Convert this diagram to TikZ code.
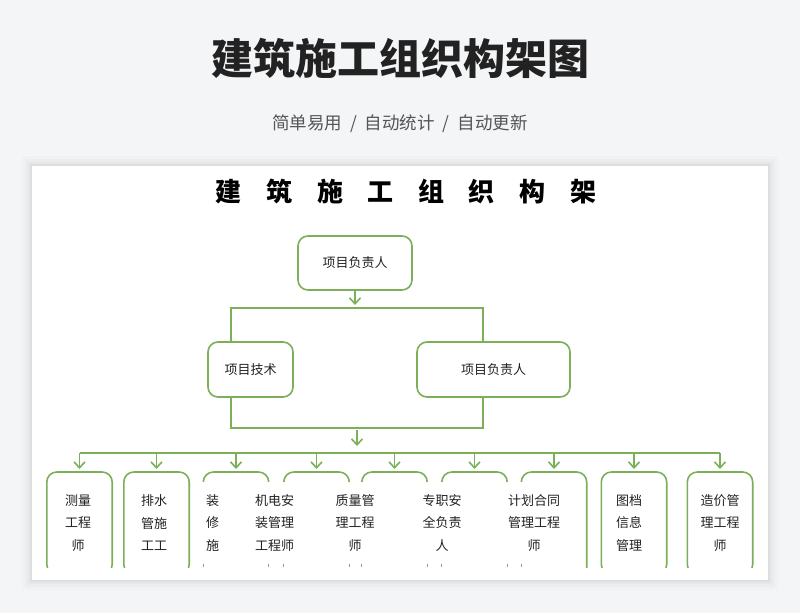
\documentclass[tikz,border=0pt]{standalone}
\usepackage{fontspec}
\newfontfamily\cjk{Noto Sans CJK SC}
\usetikzlibrary{arrows.meta,positioning,calc}

\definecolor{leafgreen}{HTML}{7BAF58}
\definecolor{inkgray}{HTML}{222222}
\definecolor{subgray}{HTML}{555555}
\definecolor{pagegray}{HTML}{F4F5F7}

\tikzset{
  link/.style={draw=leafgreen, line width=1.6pt},
  pointer/.style={link, -{Straight Barb[length=6pt,width=11pt]}},
  orgbox/.style={draw=leafgreen, line width=1.6pt, rounded corners=10pt, fill=white,
    text=inkgray, font=\cjk\fontsize{13}{16}\selectfont, align=center},
  boxslot/.style={minimum width=65pt, minimum height=102pt, anchor=north, inner sep=0pt},
  boxtext/.style={text=inkgray, font=\cjk\fontsize{13}{22.5}\selectfont, align=center, inner sep=0pt},
}

\begin{document}
\begin{tikzpicture}[x=1pt,y=-1pt]
  \useasboundingbox (0,0) rectangle (800,613);
  \fill[pagegray] (0,0) rectangle (800,613);

  % card and its soft shadow
  \foreach \s/\o in {10/0.012,7/0.018,4/0.025,2/0.035} {
    \fill[black,opacity=\o] (32-\s,166-\s) rectangle (768+\s,580+\s);
  }
  \fill[white] (32,166) rectangle (768,580);

  \node[font=\cjk\bfseries\fontsize{42}{46}\selectfont, text=inkgray] (title) at (400,58) {建筑施工组织构架图};
  \node[font=\cjk\fontsize{17.5}{20}\selectfont, text=subgray] (subtitle) at (400,124)
    {简单易用\hspace{8pt}/\hspace{8pt}自动统计\hspace{8pt}/\hspace{8pt}自动更新};

  \node[font=\cjk\bfseries\fontsize{26}{30}\selectfont, text=black] (heading) at (406,192)
    {建\hspace{24.6pt}筑\hspace{24.6pt}施\hspace{24.6pt}工\hspace{24.6pt}组\hspace{24.6pt}织\hspace{24.6pt}构\hspace{24.6pt}架};

  % upper levels
  \node[orgbox, minimum width=114pt, minimum height=54pt] (lead) at (355,263) {项目负责人};
  \node[orgbox, minimum width=85pt, minimum height=55pt] (tech) at (250.5,369.5) {项目技术};
  \node[orgbox, minimum width=153pt, minimum height=55pt] (lead2) at (493.5,369.5) {项目负责人};

  \coordinate (fork) at (355,305);
  \coordinate (splitL) at (231,308);
  \coordinate (splitR) at (483,308);
  \coordinate (mergeL) at (231,428);
  \coordinate (mergeR) at (483,428);
  \coordinate (down1) at (357,430);
  \coordinate (down2) at (357,446);
  \coordinate (bus) at (79,453);

  \draw[pointer] (lead.south) -- (fork);
  \draw[link] (tech.north -| splitL) -- (splitL) -- (splitR) -- (lead2.north -| splitR);
  \draw[link] (tech.south -| mergeL) -- (mergeL) -- (mergeR) -- (lead2.south -| mergeR);
  \draw[pointer] (down1) -- (down2);

  % bottom row
  \foreach \n/\x in {1/79.5,2/156.5,3/236,4/316.5,5/394.5,6/474.5,7/554,8/634,9/720}
    \node[boxslot] (b\n) at (\x,472) {};

  \draw[link] (b1.north |- bus) -- (b9.north |- bus);
  \foreach \n in {1,...,9}
    \draw[pointer] (b\n.north |- bus) -- ($(b\n.north)+(0,-3)$);

  \begin{scope}
    \clip (32,166) rectangle (768,567);
    \foreach \n in {1,2,8,9}
      \draw[link, rounded corners=10pt] (b\n.north west) rectangle (b\n.south east);
    \foreach \n in {3,...,6} {
      \draw[link, rounded corners=10pt] ($(b\n.north west)+(0,10)$) -- (b\n.north west)
        -- (b\n.north east) -- ($(b\n.north east)+(0,10)$);
      \draw[link, line width=1.2pt] ($(b\n.north west)+(0,92)$) -- ++(0,3);
      \draw[link, line width=1.2pt] ($(b\n.north east)+(0,92)$) -- ++(0,3);
    }
    \draw[link, rounded corners=10pt] ($(b7.north west)+(0,10)$) -- (b7.north west)
      -- (b7.north east) -- (b7.south east);
    \draw[link, line width=1.2pt] ($(b7.north west)+(0,92)$) -- ++(0,3);
  \end{scope}

  \node[boxtext] (t1) at (78,523) {测量\\工程\\师};
  \node[boxtext] (t2) at (154,523) {排水\\管施\\工工};
  \node[boxtext] (t3) at (212.5,523) {装\\修\\施};
  \node[boxtext] (t4) at (274.5,523) {机电安\\装管理\\工程师};
  \node[boxtext] (t5) at (355,523) {质量管\\理工程\\师};
  \node[boxtext] (t6) at (442,523) {专职安\\全负责\\人};
  \node[boxtext] (t7) at (534,523) {计划合同\\管理工程\\师};
  \node[boxtext] (t8) at (629,523) {图档\\信息\\管理};
  \node[boxtext] (t9) at (720,523) {造价管\\理工程\\师};
\end{tikzpicture}
\end{document}
